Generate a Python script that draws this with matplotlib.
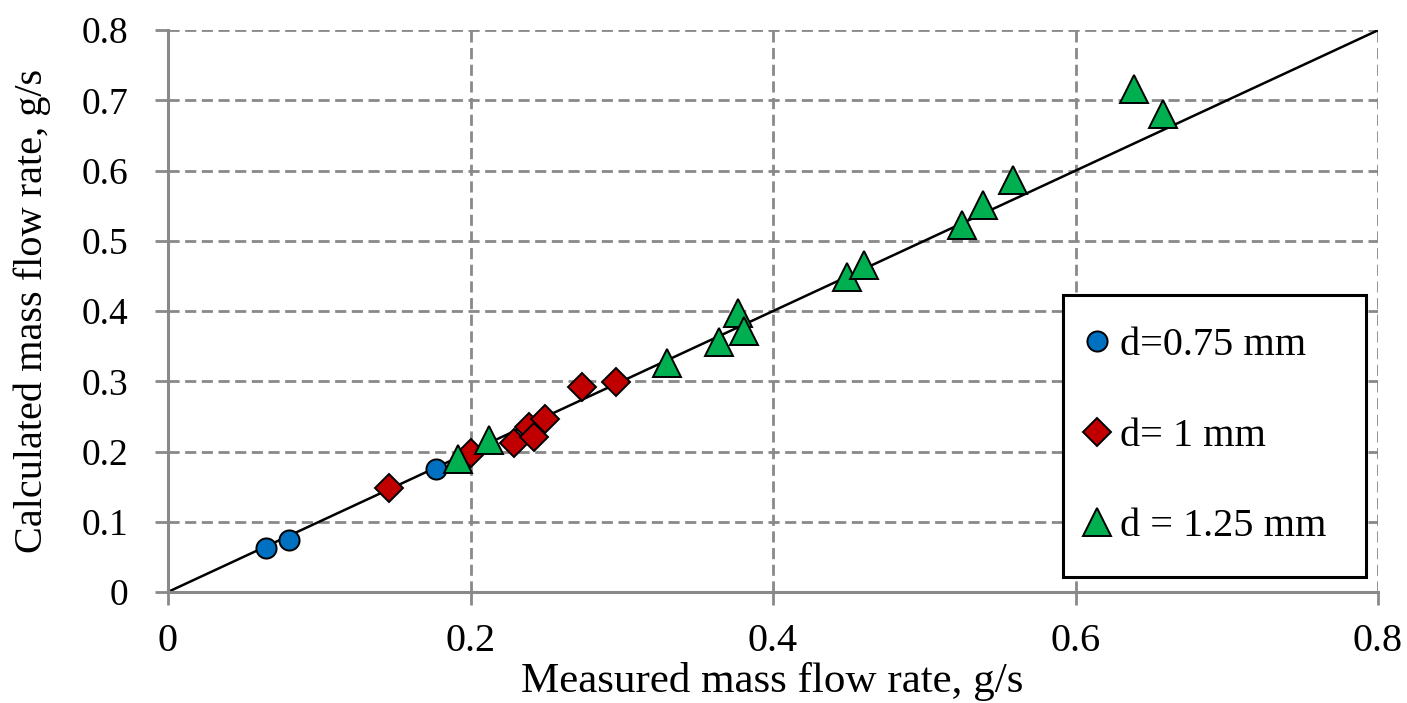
import matplotlib
matplotlib.use("Agg")
import matplotlib.pyplot as plt

plt.rcParams['font.family'] = ['Liberation Serif', 'DejaVu Serif']

# ---- data ----
x_075 = [0.065, 0.080, 0.177]
y_075 = [0.062, 0.074, 0.175]

x_100 = [0.146, 0.200, 0.229, 0.239, 0.242, 0.249, 0.274, 0.296]
y_100 = [0.148, 0.198, 0.212, 0.235, 0.220, 0.247, 0.292, 0.299]

x_125 = [0.192, 0.212, 0.330, 0.364, 0.377, 0.381, 0.449, 0.460,
         0.525, 0.539, 0.559, 0.639, 0.658]
y_125 = [0.190, 0.216, 0.326, 0.356, 0.397, 0.371, 0.449, 0.466,
         0.522, 0.551, 0.587, 0.717, 0.681]

ticks = [0, 0.2, 0.4, 0.6, 0.8]
tick_labels = ['0', '0.2', '0.4', '0.6', '0.8']
yticks = [0, 0.1, 0.2, 0.3, 0.4, 0.5, 0.6, 0.7, 0.8]
ytick_labels = ['0', '0.1', '0.2', '0.3', '0.4', '0.5', '0.6', '0.7', '0.8']
parity = [0, 0.8]

# ---- figure ----
fig = plt.figure(figsize=(14.07, 7.03), dpi=100)
ax = fig.add_axes([0.1194, 0.158, 0.860, 0.799])

ax.plot(parity, parity, color='black', linewidth=1.8, zorder=2)

ax.plot(x_075, y_075, 'o', color='#0070C0', markeredgecolor='black',
        markeredgewidth=1.4, markersize=14.5, label='d=0.75 mm', zorder=3)
ax.plot(x_100, y_100, 'D', color='#C00000', markeredgecolor='black',
        markeredgewidth=1.4, markersize=14.5, label='d= 1 mm', zorder=3)
ax.plot(x_125, y_125, '^', color='#00B050', markeredgecolor='black',
        markeredgewidth=1.4, markersize=20, label='d = 1.25 mm', zorder=4)

ax.set_xlim(0, 0.8)
ax.set_ylim(0, 0.8)
ax.set_xticks(ticks)
ax.set_xticklabels(tick_labels)
ax.set_yticks(yticks)
ax.set_yticklabels(ytick_labels)

ax.grid(True, color='#898989', linestyle=(0, (4, 2)), linewidth=2)
ax.set_axisbelow(True)
for side in ['top', 'right']:
    ax.spines[side].set_visible(False)
for side in ['left', 'bottom']:
    ax.spines[side].set_color('#898989')
    ax.spines[side].set_linewidth(2.2)

ax.tick_params(axis='both', colors='black', length=9.5, width=2,
               color='#898989')
ax.tick_params(axis='x', labelsize=29, pad=13)
ax.tick_params(axis='y', labelsize=27, pad=19)

ax.set_xlabel('Measured mass flow rate, g/s', fontsize=31)
ax.xaxis.set_label_coords(0.4996, -0.124)
ax.set_ylabel('Calculated mass flow rate, g/s', fontsize=29)
ax.yaxis.set_label_coords(-0.097, 0.5)

leg = ax.legend(loc='upper left', bbox_to_anchor=(0.7397, 0.0, 0.2504, 0.5285),
                mode='expand', fontsize=29, frameon=True, fancybox=False,
                handletextpad=0.52, handlelength=0.1, labelspacing=1.32,
                borderpad=0.8, borderaxespad=0, markerscale=1.0)
leg.get_frame().set_edgecolor('black')
leg.get_frame().set_linewidth(2.2)
leg.get_frame().set_alpha(1)

plt.savefig('out.png', dpi=100)
